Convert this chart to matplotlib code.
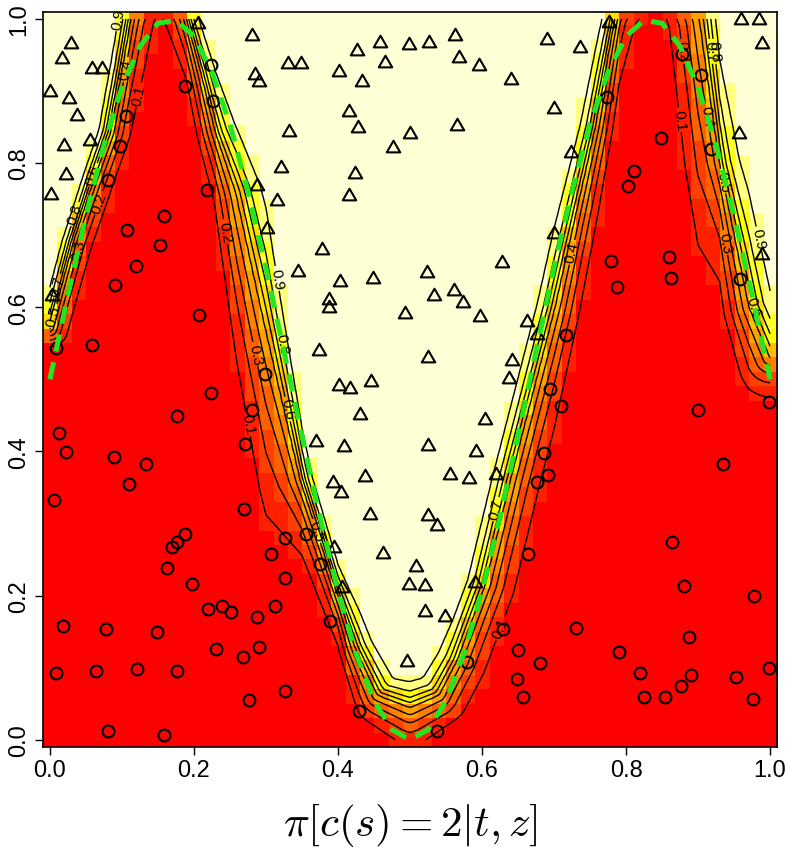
import numpy as np
import matplotlib
matplotlib.use("Agg")
import matplotlib.pyplot as plt
from matplotlib.colors import ListedColormap
from matplotlib.path import Path

plt.rcParams['mathtext.fontset'] = 'cm'
plt.rcParams['font.family'] = ['Liberation Sans', 'DejaVu Sans']

# ---- true boundary (green dashed curve) ----
curve_x = [0.000, 0.025, 0.050, 0.075, 0.100, 0.125, 0.150, 0.175, 0.200, 0.225,
           0.250, 0.275, 0.300, 0.325, 0.350, 0.375, 0.400, 0.425, 0.450, 0.475,
           0.500, 0.525, 0.550, 0.575, 0.600, 0.625, 0.650, 0.675, 0.700, 0.725,
           0.750, 0.775, 0.800, 0.825, 0.850, 0.875, 0.900, 0.925, 0.950, 0.975, 1.000]
curve_y = [0.500, 0.617, 0.727, 0.825, 0.905, 0.962, 0.994, 0.998, 0.976, 0.926,
           0.854, 0.761, 0.655, 0.539, 0.422, 0.309, 0.206, 0.120, 0.054, 0.014,
           0.000, 0.014, 0.054, 0.120, 0.206, 0.309, 0.422, 0.539, 0.655, 0.761,
           0.854, 0.926, 0.976, 0.998, 0.994, 0.962, 0.905, 0.825, 0.727, 0.617, 0.500]

# ---- estimated 0.5-probability boundary, read from the contour bundle ----
est_x = [0.000, 0.032, 0.060, 0.084, 0.100, 0.112, 0.128, 0.150, 0.172, 0.190,
         0.210, 0.230, 0.258, 0.295, 0.348, 0.400, 0.424, 0.455, 0.500, 0.540,
         0.565, 0.604, 0.639, 0.701, 0.757, 0.784, 0.810, 0.843, 0.875, 0.902,
         0.930, 0.971, 1.000]
est_y = [0.570, 0.690, 0.775, 0.843, 0.930, 1.000, 1.050, 1.070, 1.050, 1.000,
         0.925, 0.843, 0.760, 0.590, 0.360, 0.200, 0.128, 0.062, 0.045, 0.062,
         0.110, 0.215, 0.360, 0.600, 0.850, 1.000, 1.060, 1.080, 1.060, 1.000,
         0.800, 0.600, 0.530]

# spread of the contour bundle along x
band_x = [0.00, 0.03, 0.08, 0.11, 0.15, 0.19, 0.23, 0.26, 0.30, 0.35, 0.40, 0.43,
          0.50, 0.56, 0.60, 0.64, 0.70, 0.76, 0.79, 0.84, 0.90, 0.93, 0.97, 1.00]
band_w = [0.009, 0.009, 0.010, 0.010, 0.012, 0.008, 0.012, 0.018, 0.022, 0.011, 0.008, 0.013,
          0.020, 0.015, 0.015, 0.015, 0.015, 0.011, 0.008, 0.014, 0.019, 0.012, 0.019, 0.020]

# ---- class 1 points (circles) ----
circ_x = [0.188, 0.227, 0.224, 0.105, 0.098, 0.080, 0.218, 0.877, 0.904, 0.774,
          0.849, 0.918, 0.811, 0.803, 0.159, 0.107, 0.153, 0.120, 0.091, 0.207,
          0.058, 0.009, 0.299, 0.779, 0.859, 0.787, 0.862, 0.716, 0.958, 0.223,
          0.176, 0.281, 0.012, 0.022, 0.089, 0.133, 0.271, 0.110, 0.006, 0.270,
          0.187, 0.176, 0.169, 0.327, 0.307, 0.163, 0.355, 0.664, 0.375, 0.694,
          0.709, 0.900, 0.998, 0.686, 0.691, 0.677, 0.934, 0.864, 0.197, 0.327,
          0.220, 0.239, 0.252, 0.313, 0.288, 0.018, 0.078, 0.149, 0.231, 0.291,
          0.268, 0.009, 0.064, 0.121, 0.177, 0.327, 0.276, 0.080, 0.159, 0.389,
          0.429, 0.629, 0.650, 0.579, 0.649, 0.657, 0.537, 0.880, 0.978, 0.731,
          0.888, 0.790, 0.681, 0.819, 0.890, 0.953, 0.998, 0.876, 0.825, 0.854, 0.976]
circ_y = [0.907, 0.886, 0.936, 0.865, 0.824, 0.776, 0.762, 0.951, 0.922, 0.892,
          0.835, 0.819, 0.789, 0.768, 0.726, 0.707, 0.686, 0.657, 0.631, 0.589,
          0.548, 0.544, 0.508, 0.664, 0.670, 0.628, 0.640, 0.562, 0.639, 0.481,
          0.449, 0.458, 0.425, 0.399, 0.392, 0.382, 0.411, 0.355, 0.333, 0.320,
          0.286, 0.274, 0.268, 0.280, 0.258, 0.238, 0.285, 0.258, 0.244, 0.487,
          0.463, 0.458, 0.469, 0.398, 0.367, 0.358, 0.383, 0.274, 0.216, 0.225,
          0.182, 0.185, 0.177, 0.185, 0.171, 0.158, 0.153, 0.149, 0.126, 0.129,
          0.115, 0.092, 0.095, 0.098, 0.095, 0.068, 0.055, 0.012, 0.007, 0.165,
          0.040, 0.154, 0.124, 0.108, 0.085, 0.059, 0.012, 0.213, 0.200, 0.155,
          0.143, 0.122, 0.106, 0.092, 0.090, 0.087, 0.099, 0.074, 0.059, 0.059, 0.056]

# ---- class 2 points (triangles) ----
tri_x = [0.029, 0.017, 0.059, 0.072, 0.000, 0.026, 0.038, 0.019, 0.023, 0.001,
         0.055, 0.206, 0.281, 0.330, 0.285, 0.291, 0.332, 0.321, 0.288, 0.316,
         0.349, 0.426, 0.459, 0.499, 0.527, 0.562, 0.465, 0.568, 0.596, 0.402,
         0.434, 0.640, 0.415, 0.428, 0.565, 0.500, 0.477, 0.424, 0.415, 0.777,
         0.959, 0.984, 0.690, 0.736, 0.989, 0.700, 0.957, 0.723, 0.003, 0.378,
         0.345, 0.403, 0.449, 0.524, 0.628, 0.534, 0.561, 0.573, 0.387, 0.387,
         0.493, 0.597, 0.662, 0.677, 0.373, 0.525, 0.641, 0.637, 0.401, 0.417,
         0.446, 0.430, 0.604, 0.370, 0.408, 0.525, 0.592, 0.437, 0.556, 0.582,
         0.619, 0.393, 0.404, 0.444, 0.525, 0.538, 0.395, 0.462, 0.508, 0.498,
         0.521, 0.590, 0.521, 0.548, 0.496, 0.405, 0.700, 0.989, 0.301]
tri_y = [0.965, 0.944, 0.930, 0.930, 0.898, 0.889, 0.865, 0.824, 0.784, 0.756,
         0.831, 0.993, 0.976, 0.937, 0.922, 0.913, 0.843, 0.793, 0.768, 0.747,
         0.937, 0.955, 0.966, 0.964, 0.966, 0.976, 0.939, 0.946, 0.935, 0.926,
         0.913, 0.915, 0.871, 0.849, 0.851, 0.840, 0.821, 0.785, 0.755, 0.995,
         0.998, 0.998, 0.971, 0.960, 0.965, 0.875, 0.840, 0.814, 0.616, 0.680,
         0.649, 0.635, 0.639, 0.647, 0.662, 0.616, 0.623, 0.606, 0.610, 0.599,
         0.590, 0.587, 0.579, 0.562, 0.540, 0.529, 0.526, 0.501, 0.491, 0.487,
         0.497, 0.451, 0.444, 0.413, 0.406, 0.407, 0.399, 0.364, 0.367, 0.362,
         0.367, 0.356, 0.342, 0.312, 0.310, 0.297, 0.266, 0.258, 0.239, 0.215,
         0.213, 0.217, 0.177, 0.171, 0.108, 0.211, 0.702, 0.672, 0.709]

contour_levels = [0.1, 0.2, 0.3, 0.4, 0.5, 0.6, 0.7, 0.8, 0.9]
heat_colors = ['#FF0000', '#FF2000', '#FF4000', '#FF6000', '#FF8000', '#FF9F00',
               '#FFBF00', '#FFDF00', '#FFFF00', '#FFFF2A', '#FFFF80', '#FFFFD5']


def prob_field(n):
    g = np.linspace(0, 1, n)
    X, Y = np.meshgrid(g, g)
    cx = np.asarray(est_x); cy = np.asarray(est_y)
    P = np.stack([X.ravel(), Y.ravel()], 1)
    A = np.stack([cx[:-1], cy[:-1]], 1)
    B = np.stack([cx[1:], cy[1:]], 1)
    AB = B - A
    AP = P[:, None, :] - A[None, :, :]
    t = np.clip((AP * AB).sum(-1) / (AB * AB).sum(-1), 0, 1)
    proj = A[None] + t[..., None] * AB[None]
    d = np.sqrt(((P[:, None, :] - proj) ** 2).sum(-1)).min(1)
    sgn = np.sign(Y.ravel() - np.interp(X.ravel(), cx, cy))
    sd = (sgn * d).reshape(X.shape)
    w = np.interp(X, band_x, band_w)
    w = np.where(sd > 0, 0.75 * w, 1.25 * w)
    return g, 1.0 / (1.0 + np.exp(-sd / w))


fig = plt.figure(figsize=(7.88, 8.53), dpi=100)
ax = fig.add_axes([0.0542, 0.1231, 0.9322, 0.862])

g, Z = prob_field(51)
ax.imshow(Z, origin='lower', extent=(-0.01, 1.01, -0.01, 1.01), cmap=ListedColormap(heat_colors),
          vmin=0, vmax=1, interpolation='nearest', aspect='auto', zorder=1)

gf, Zf = prob_field(201)
cs = ax.contour(gf, gf, Zf, levels=contour_levels, colors='black', linewidths=1.0, zorder=2)
ax.clabel(cs, inline=True, fontsize=11, fmt='%.1f', inline_spacing=2)

tri_path = Path([(-1.0, -0.577), (1.0, -0.577), (0.0, 1.155), (-1.0, -0.577)],
                [Path.MOVETO, Path.LINETO, Path.LINETO, Path.CLOSEPOLY])
ax.plot(circ_x, circ_y, linestyle='none', marker='o', ms=8.5, mfc='none', mec='black', mew=1.5, zorder=3)
ax.plot(tri_x, tri_y, linestyle='none', marker=tri_path, ms=11.2, mfc='none', mec='black', mew=1.5, zorder=3)

ax.plot(curve_x, curve_y, color='#22e622', lw=3.6, linestyle=(0, (3.5, 2.2)),
        solid_capstyle='butt', dash_capstyle='butt', zorder=4)

ax.set_xlim(-0.01, 1.01)
ax.set_ylim(-0.01, 1.01)
ticks = [0.0, 0.2, 0.4, 0.6, 0.8, 1.0]
tick_labels = ['0.0', '0.2', '0.4', '0.6', '0.8', '1.0']
ax.set_xticks(ticks)
ax.set_xticklabels(tick_labels, fontsize=17)
ax.set_yticks(ticks)
ax.set_yticklabels(tick_labels, fontsize=17, rotation=90, va='center')
ax.tick_params(direction='out', length=6, width=1, pad=3)
for s in ax.spines.values():
    s.set_linewidth(1.2)
ax.set_xlabel(r'$\pi[c(s) = 2|t, z]$', fontsize=31, labelpad=14)

fig.savefig('out.png', dpi=100)
